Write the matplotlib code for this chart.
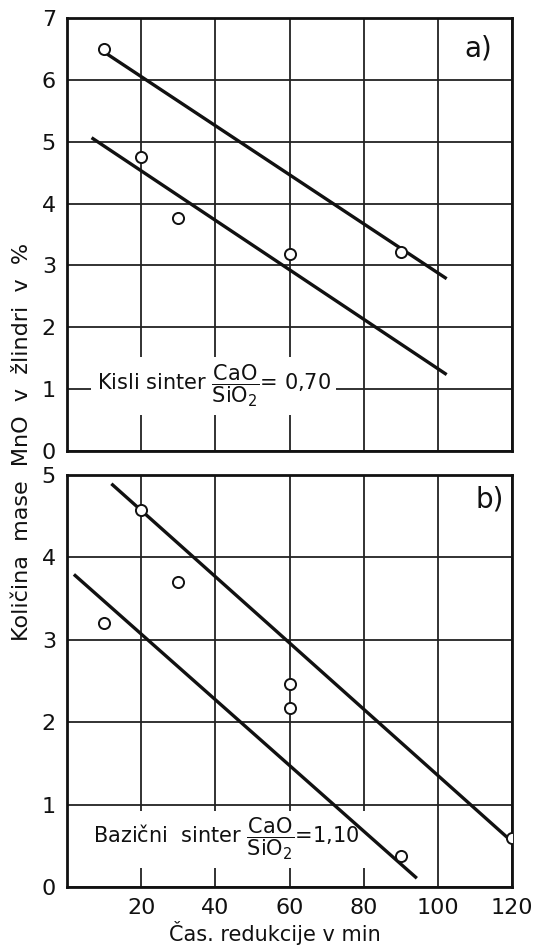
import matplotlib
matplotlib.use('Agg')
import matplotlib.pyplot as plt

plt.rcParams['font.family'] = ['DejaVu Sans']
plt.rcParams['mathtext.fontset'] = 'dejavusans'

# a) Kisli sinter CaO/SiO2 = 0,70
a_x = [10, 20, 30, 60, 90]
a_y = [6.5, 4.75, 3.77, 3.18, 3.22]
a_line1_x = [10, 102]
a_line1_y = [6.45, 2.8]
a_line2_x = [7, 102]
a_line2_y = [5.05, 1.25]

# b) Bazicni sinter CaO/SiO2 = 1,10
b_x = [10, 20, 30, 60, 60, 90, 120]
b_y = [3.2, 4.57, 3.7, 2.46, 2.17, 0.38, 0.6]
b_line1_x = [12.3, 120]
b_line1_y = [4.88, 0.55]
b_line2_x = [2.2, 94]
b_line2_y = [3.78, 0.12]

xticks = [0, 20, 40, 60, 80, 100, 120]
xticklabels = ['', '20', '40', '60', '80', '100', '120']

fig = plt.figure(figsize=(5.56, 9.49), dpi=100)
ax1 = fig.add_axes([0.1205, 0.5248, 0.8004, 0.4562])
ax2 = fig.add_axes([0.1205, 0.0653, 0.8004, 0.4342])

def style(ax, ymax):
    ax.set_xlim(0, 120)
    ax.set_ylim(0, ymax)
    ax.set_xticks(xticks)
    ax.set_yticks(range(0, ymax + 1))
    ax.grid(True, color='#222222', linewidth=1.3)
    for s in ax.spines.values():
        s.set_linewidth(2)
        s.set_color('#111111')
    ax.tick_params(length=0, labelsize=16, colors='#111111', pad=8)

style(ax1, 7)
style(ax2, 5)
ax1.set_xticklabels([])
ax2.set_xticklabels(xticklabels)

lw = 2.4
ax1.plot(a_line1_x, a_line1_y, color='#111111', lw=lw, zorder=4)
ax1.plot(a_line2_x, a_line2_y, color='#111111', lw=lw, zorder=4)
ax1.plot(a_x, a_y, 'o', ms=8, mfc='white', mec='#111111', mew=1.4, zorder=5)

ax2.plot(b_line1_x, b_line1_y, color='#111111', lw=lw, zorder=4)
ax2.plot(b_line2_x, b_line2_y, color='#111111', lw=lw, zorder=4)
ax2.plot(b_x, b_y, 'o', ms=8, mfc='white', mec='#111111', mew=1.4, zorder=5)

box = dict(facecolor='white', edgecolor='none', pad=4)
ax1.text(8.0, 1.05, r'Kisli sinter $\dfrac{\mathrm{CaO}}{\mathrm{SiO_2}}$= 0,70',
         fontsize=15, va='center', ha='left', bbox=box, color='#111111', zorder=3)
ax2.text(7.0, 0.58, r'Bazični  sinter $\dfrac{\mathrm{CaO}}{\mathrm{SiO_2}}$=1,10',
         fontsize=15, va='center', ha='left', bbox=box, color='#111111', zorder=3)

ax1.text(111, 6.5, 'a)', fontsize=20, ha='center', va='center', color='#111111')
ax2.text(114, 4.7, 'b)', fontsize=20, ha='center', va='center', color='#111111')

fig.text(0.495, 0.004, 'Čas. redukcije v min', fontsize=15, ha='center', va='bottom',
         color='#111111')
fig.text(0.04, 0.534, 'Količina  mase  MnO  v  žlindri  v  %', rotation=90,
         fontsize=16, ha='center', va='center', color='#111111')

fig.savefig('out.png', dpi=100, facecolor='white')
